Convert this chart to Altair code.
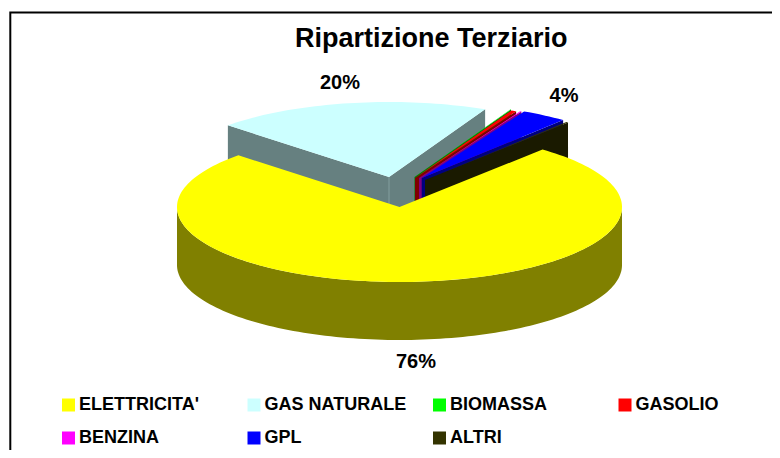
import math
import altair as alt

categories = ["ELETTRICITA'", "GAS NATURALE", "BIOMASSA", "GASOLIO", "BENZINA", "GPL", "ALTRI"]
shares = [76.0, 20.0, 0.03, 0.37, 0.1, 3.35, 0.15]
top_colors = ["#FFFF00", "#CCFFFF", "#00FF00", "#FF0000", "#FF00FF", "#0000FF", "#333300"]
wall_colors = ["#808000", "#668080", "#008000", "#800000", "#800080", "#000080", "#1A1A00"]
label_texts = ["76%", "20%", "4%"]
title_text = "Ripartizione Terziario"

# layout (page pixels, converted to chart pixels with M)
M = 8
RX, RY, DEPTH = 222.5, 75.0, 58.0
START = 40.0
centers = {
    "ELETTRICITA'": (399.5, 207), "GAS NATURALE": (389, 177), "BIOMASSA": (414.5, 177),
    "GASOLIO": (415, 178), "BENZINA": (419, 178), "GPL": (421.7, 178), "ALTRI": (425, 180),
}


def pt(c, a, dz=0.0):
    r = math.radians(a)
    return [c[0] + RX * math.sin(r) - M, c[1] - RY * math.cos(r) + dz - M]


def apex(c, dz=0.0):
    return [c[0] - M, c[1] + dz - M]


def feature(name, fill, ring):
    return {
        "type": "Feature",
        "properties": {"name": name, "fill": fill},
        "geometry": {"type": "Polygon", "coordinates": [ring + [ring[0]]]},
    }


def arc(c, a0, a1, dz=0.0):
    n = max(2, int(abs(a1 - a0) / 1.5) + 1)
    return [pt(c, a0 + (a1 - a0) * i / (n - 1), dz) for i in range(n)]


def radial_wall(c, a):
    return [apex(c), pt(c, a), pt(c, a, DEPTH), apex(c, DEPTH)]


# angular spans, clockwise from the top of the ellipse
spans = {}
a = START
for name, s in zip(categories, shares):
    spans[name] = (a, a + s * 3.6)
    a += s * 3.6

draw_order = categories[1:] + categories[:1]
tops, walls = [], []
for name in draw_order:
    i = categories.index(name)
    c = centers[name]
    a0, a1 = spans[name]
    tops.append(feature(name, top_colors[i], [apex(c)] + arc(c, a0, a1)))
    if name == "ELETTRICITA'":
        walls.append(feature(name, wall_colors[i], arc(c, 90, 270) + arc(c, 270, 90, DEPTH)))
    elif name == "GAS NATURALE":
        walls.append(feature(name, wall_colors[i], radial_wall(c, a0)))
        walls.append(feature(name, wall_colors[i], radial_wall(c, a1)))
    else:
        walls.append(feature(name, wall_colors[i], radial_wall(c, a1)))

proj = dict(type="identity", reflectY=False, scale=1, translate=[0, 0])

wall_layer = (
    alt.Chart(alt.Data(values=walls))
    .mark_geoshape()
    .encode(fill=alt.Fill("properties.fill:N", scale=None))
    .project(**proj)
)

seam = (
    alt.Chart(alt.Data(values=[{
        "type": "Feature", "properties": {},
        "geometry": {"type": "LineString", "coordinates": [apex(centers["GAS NATURALE"]), apex(centers["GAS NATURALE"], DEPTH)]},
    }]))
    .mark_geoshape(filled=False, stroke="#8CA6A6", strokeWidth=0.8)
    .project(**proj)
)

top_layer = (
    alt.Chart(alt.Data(values=tops))
    .mark_geoshape()
    .encode(
        color=alt.Color(
            "properties.name:N",
            scale=alt.Scale(domain=categories, range=top_colors),
            legend=alt.Legend(
                title=None, orient="none", legendX=51.5, legendY=388, columns=4, direction="horizontal",
                symbolType="square", symbolSize=169, symbolStrokeWidth=0,
                labelFont="Liberation Sans", labelFontSize=18, labelFontWeight="bold",
                labelColor="black", labelLimit=300, labelOffset=1.5,
                columnPadding=23.5, rowPadding=15, gridAlign="all",
            ),
        )
    )
    .project(**proj)
)

frame = (
    alt.Chart(alt.Data(values=[{
        "type": "Feature", "properties": {},
        "geometry": {"type": "LineString", "coordinates": [[2.3, 460], [2.3, 4.5], [780, 4.5]]},
    }]))
    .mark_geoshape(filled=False, stroke="black", strokeWidth=2)
    .project(**proj)
)

label_rows = [
    {"t": label_texts[0], "lx": 416 - M, "ly": 362 - M},
    {"t": label_texts[1], "lx": 340 - M, "ly": 83 - M},
    {"t": label_texts[2], "lx": 564 - M, "ly": 96 - M},
]
labels = (
    alt.Chart(alt.Data(values=label_rows))
    .mark_text(font="Liberation Sans", fontSize=20, fontWeight="bold", color="black")
    .encode(x=alt.X("lx:Q", scale=None), y=alt.Y("ly:Q", scale=None), text="t:N")
)

chart = (
    alt.layer(frame, wall_layer, seam, top_layer, labels)
    .properties(
        width=764, height=442,
        padding=0,
        autosize=alt.AutoSizeParams(type="none"),
        title=alt.TitleParams(
            title_text, font="Liberation Sans", fontSize=27, fontWeight="bold", color="black",
            anchor="start", orient="top", offset=0, dx=287, dy=66, baseline="alphabetic",
        ),
    )
    .configure_view(stroke=None)
)

chart.save("out.html", embed_options={"renderer": "svg", "actions": False})
